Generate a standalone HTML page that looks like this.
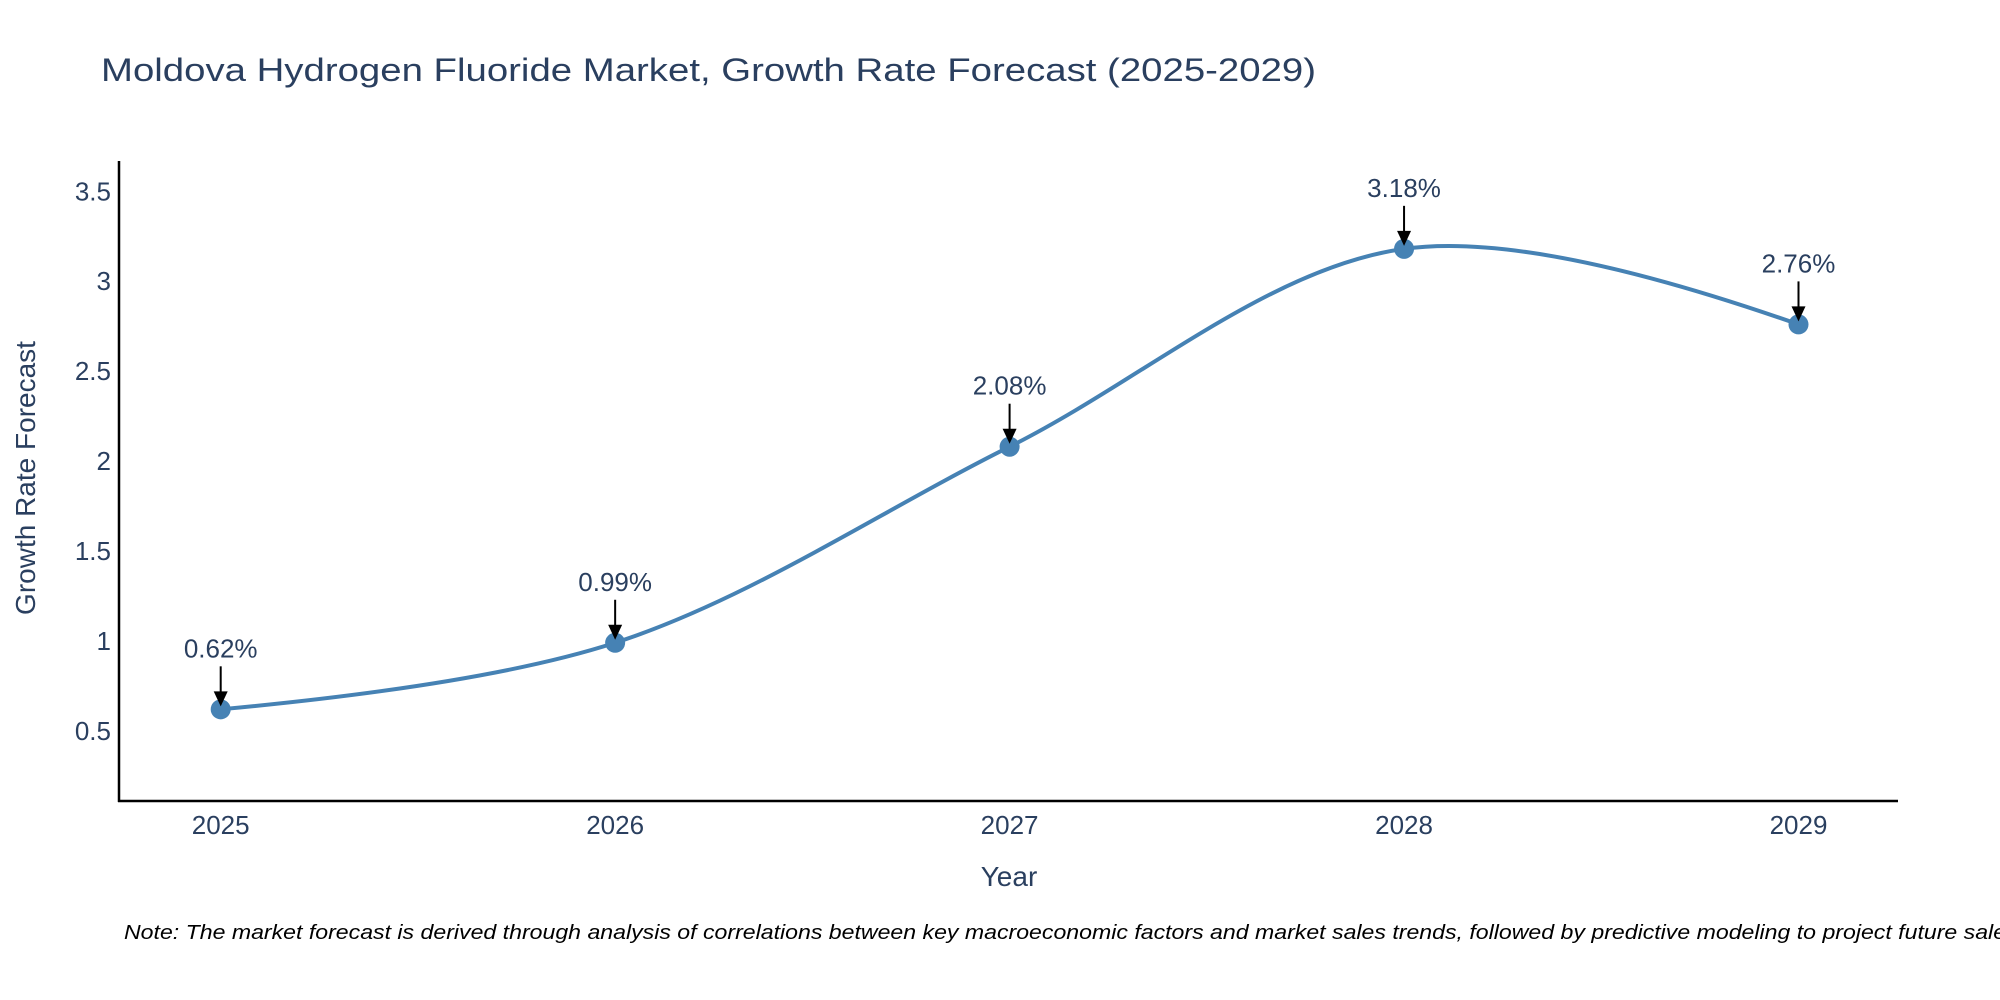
<!DOCTYPE html>
<html><head><meta charset="utf-8"><style>
html,body{margin:0;padding:0;background:#fff;}
svg{display:block;font-family:"Liberation Sans",sans-serif;}
</style></head><body>
<svg id="chart" width="2000" height="1000" viewBox="0 0 2000 1000" xmlns="http://www.w3.org/2000/svg">
<text x="101" y="81" font-size="32" fill="#2a3f5f" textLength="1215" lengthAdjust="spacingAndGlyphs">Moldova Hydrogen Fluoride Market, Growth Rate Forecast (2025-2029)</text>
<g id="plot"></g>
<line x1="119" y1="161" x2="119" y2="802" stroke="#000" stroke-width="2.5"/>
<line x1="118" y1="801" x2="1898" y2="801" stroke="#000" stroke-width="2.5"/>
<text x="1009" y="886" font-size="28" fill="#2a3f5f" text-anchor="middle">Year</text>
<text transform="translate(35,478) rotate(-90)" font-size="28" fill="#2a3f5f" text-anchor="middle">Growth Rate Forecast</text>
<text x="124" y="939" font-size="20" font-style="italic" fill="#000" textLength="1900" lengthAdjust="spacingAndGlyphs">Note: The market forecast is derived through analysis of correlations between key macroeconomic factors and market sales trends, followed by predictive modeling to project future sales.</text>
</svg>
<script>
const years = [2025, 2026, 2027, 2028, 2029];
const values = [0.62, 0.99, 2.08, 3.18, 2.76];
const labels = ["0.62%", "0.99%", "2.08%", "3.18%", "2.76%"];
const yTicks = [0.5, 1, 1.5, 2, 2.5, 3, 3.5];
const yTickLabels = ["0.5", "1", "1.5", "2", "2.5", "3", "3.5"];

const NS = "http://www.w3.org/2000/svg";
const g = document.getElementById("plot");
function xs(v){ return 220.7 + (v - 2025) * (1798.5 - 220.7) / 4; }
function ys(v){ return 730.9 - (v - 0.5) * 179.87; }
function mk(tag, attrs){ const e = document.createElementNS(NS, tag); for (const k in attrs) e.setAttribute(k, attrs[k]); g.appendChild(e); return e; }

yTicks.forEach((t, i) => {
  const e = mk("text", {x: 111, y: ys(t) + 9, "font-size": 26, fill: "#2a3f5f", "text-anchor": "end"});
  e.textContent = yTickLabels[i];
  
  
});
years.forEach(y => {
  const e = mk("text", {x: xs(y), y: 834, "font-size": 26, fill: "#2a3f5f", "text-anchor": "middle"});
  e.textContent = String(y);
  
  
});

const pts = years.map((y, i) => [xs(y), ys(values[i])]);
function tangent(a, b, c) {
  const d1x = a[0]-b[0], d1y = a[1]-b[1], d2x = c[0]-b[0], d2y = c[1]-b[1];
  const d1a = Math.pow(d1x*d1x + d1y*d1y, 0.25), d2a = Math.pow(d2x*d2x + d2y*d2y, 0.25);
  const nx = d2a*d2a*d1x - d1a*d1a*d2x, ny = d2a*d2a*d1y - d1a*d1a*d2y;
  const den1 = 3*d2a*(d1a+d2a), den2 = 3*d1a*(d1a+d2a);
  return [[b[0]+nx/den1, b[1]+ny/den1], [b[0]-nx/den2, b[1]-ny/den2]];
}
const tans = [];
for (let i = 1; i < pts.length - 1; i++) tans.push(tangent(pts[i-1], pts[i], pts[i+1]));
let d = "M" + pts[0] + " Q" + tans[0][0] + " " + pts[1];
for (let i = 2; i < pts.length - 1; i++) d += " C" + tans[i-2][1] + " " + tans[i-1][0] + " " + pts[i];
d += " Q" + tans[pts.length-3][1] + " " + pts[pts.length-1];
const line = mk("path", {d: d, fill: "none", stroke: "#4682B4", "stroke-width": 4});



pts.forEach((p, i) => {
  const c = mk("circle", {cx: p[0], cy: p[1], r: 10, fill: "#4682B4"});
  
  
  const a = mk("line", {x1: p[0], y1: p[1] - 43, x2: p[0], y2: p[1] - 16, stroke: "#000", "stroke-width": 2});
  
  
  const h = mk("polygon", {points: (p[0]-7)+","+(p[1]-18)+" "+(p[0]+7)+","+(p[1]-18)+" "+p[0]+","+(p[1]-3), fill: "#000"});
  
  
  const t = mk("text", {x: p[0], y: p[1] - 52, "font-size": 26, fill: "#2a3f5f", "text-anchor": "middle"});
  t.textContent = labels[i];
  
  
});
</script>
</body></html>
